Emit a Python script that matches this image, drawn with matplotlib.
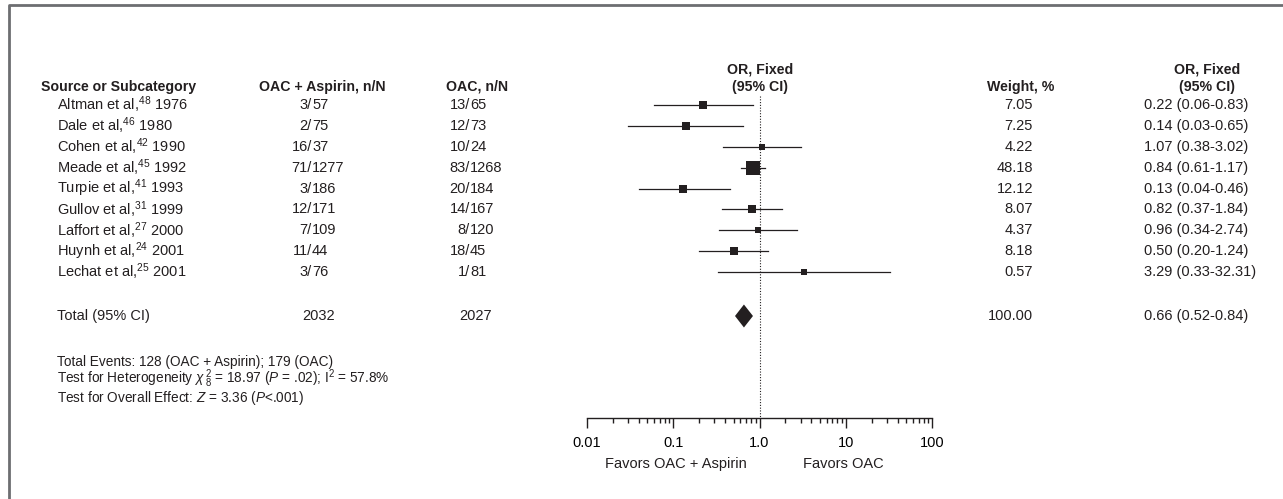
import matplotlib
matplotlib.use("Agg")
import matplotlib.pyplot as plt
from matplotlib.lines import Line2D
from matplotlib.ticker import FixedLocator, LogLocator, NullFormatter
import matplotlib.transforms as mtransforms

fam = ['Liberation Sans Narrow', 'DejaVu Sans Condensed', 'Liberation Sans', 'DejaVu Sans']
plt.rcParams['font.family'] = fam
plt.rcParams['mathtext.fontset'] = 'custom'
plt.rcParams['mathtext.rm'] = 'Liberation Sans'
plt.rcParams['mathtext.it'] = 'Liberation Sans:italic'
plt.rcParams['mathtext.bf'] = 'Liberation Sans:bold'

# Datos de los estudios
authors = ["Altman et al", "Dale et al", "Cohen et al", "Meade et al", "Turpie et al",
           "Gullov et al", "Laffort et al", "Huynh et al", "Lechat et al"]
refs = [48, 46, 42, 45, 41, 31, 27, 24, 25]
years = [1976, 1980, 1990, 1992, 1993, 1999, 2000, 2001, 2001]
exp_n = [3, 2, 16, 71, 3, 12, 7, 11, 3]
exp_N = [57, 75, 37, 1277, 186, 171, 109, 44, 76]
ctl_n = [13, 12, 10, 83, 20, 14, 8, 18, 1]
ctl_N = [65, 73, 24, 1268, 184, 167, 120, 45, 81]
weights = [7.05, 7.25, 4.22, 48.18, 12.12, 8.07, 4.37, 8.18, 0.57]
odds = [0.22, 0.14, 1.07, 0.84, 0.13, 0.82, 0.96, 0.50, 3.29]
ci_lo = [0.06, 0.03, 0.38, 0.61, 0.04, 0.37, 0.34, 0.20, 0.33]
ci_hi = [0.83, 0.65, 3.02, 1.17, 0.46, 1.84, 2.74, 1.24, 32.31]

# Total
total_exp = 2032
total_ctl = 2027
total_weight = 100.00
total_or = 0.66
total_lo = 0.52
total_hi = 0.84

tick_values = [0.01, 0.1, 1.0, 10, 100]
tick_labels = ["0.01", "0.1", "1.0", "10", "100"]

W, H = 1283, 499
fig = plt.figure(figsize=(W / 100, H / 100), dpi=100)

# ejes del forest plot (en pixeles de la figura)
ax_top, ax_bot = 62, 418
ax = fig.add_axes([587 / W, (H - ax_bot) / H, 345 / W, (ax_bot - ax_top) / H])
row_px = 20.9
first_row_px = 105
y_top = -(first_row_px - ax_top) / row_px
y_bot = y_top + (ax_bot - ax_top) / row_px
ax.set_xscale('log')
ax.set_xlim(0.01, 100)
ax.set_ylim(y_bot, y_top)

for s in ['top', 'right', 'left']:
    ax.spines[s].set_visible(False)
ax.spines['bottom'].set_linewidth(1.0)
ax.spines['bottom'].set_color('#231f20')
ax.set_yticks([])
ax.xaxis.set_major_locator(FixedLocator(tick_values))
ax.set_xticklabels(tick_labels)
ax.xaxis.set_minor_locator(LogLocator(base=10, subs=range(2, 10)))
ax.xaxis.set_minor_formatter(NullFormatter())
ax.tick_params(axis='x', which='major', length=7, width=1.0, color='#231f20',
               labelsize=10.5, pad=6, direction='out')
ax.tick_params(axis='x', which='minor', length=3.5, width=1.0, color='#231f20',
               direction='out')

rows = list(range(len(authors)))
total_row = (316 - first_row_px) / row_px

# linea de no efecto
header_y = -(first_row_px - 87) / row_px
ax.plot([1, 1], [-0.45, y_bot], linestyle=(0, (1, 1.5)), color='#231f20',
        linewidth=0.8, clip_on=False)

# intervalos y cuadrados
for i in rows:
    ax.plot([ci_lo[i], ci_hi[i]], [i, i], color='#231f20', linewidth=0.9)
    side = (6.3 + 0.14 * weights[i]) * 0.72
    ax.plot(odds[i], i, marker='s', markersize=side, color='#231f20', markeredgewidth=0)

# diamante total
dh = 0.55
ax.fill([total_lo, total_or, total_hi, total_or],
        [total_row, total_row - dh, total_row, total_row + dh],
        color='#231f20', linewidth=0)

# texto: x en pixeles de la figura, y en datos
trans = mtransforms.blended_transform_factory(fig.transFigure, ax.transData)
def px(x):
    return x / W

fs = 10.5
kw = dict(transform=trans, fontsize=fs, va='center', color='#231f20', clip_on=False)
bkw = dict(kw, fontweight='bold', fontsize=10.2)

# encabezados
up = 17 / row_px
ax.text(px(41), header_y, "Source or Subcategory", ha='left', **bkw)
ax.text(px(322), header_y, "OAC + Aspirin, n/N", ha='center', **bkw)
ax.text(px(477), header_y, "OAC, n/N", ha='center', **bkw)
ax.text(px(760), header_y, "(95% CI)", ha='center', **bkw)
ax.text(px(760), header_y - up, "OR, Fixed", ha='center', **bkw)
ax.text(px(1021), header_y, "Weight, %", ha='center', **bkw)
ax.text(px(1207), header_y, "(95% CI)", ha='center', **bkw)
ax.text(px(1207), header_y - up, "OR, Fixed", ha='center', **bkw)

for i in rows:
    ax.text(px(57), i, f"{authors[i]},$^{{{refs[i]}}}$ {years[i]}", ha='left', **kw)
    ax.text(px(312), i, f"{exp_n[i]}/", ha='right', **kw)
    ax.text(px(312), i, f"{exp_N[i]}", ha='left', **kw)
    ax.text(px(470), i, f"{ctl_n[i]}/", ha='right', **kw)
    ax.text(px(470), i, f"{ctl_N[i]}", ha='left', **kw)
    ax.text(px(1033), i, f"{weights[i]:.2f}", ha='right', **kw)
    ax.text(px(1144), i, f"{odds[i]:.2f} ({ci_lo[i]:.2f}-{ci_hi[i]:.2f})", ha='left', **kw)

ax.text(px(57), total_row, "Total (95% CI)", ha='left', **kw)
ax.text(px(319), total_row, f"{total_exp}", ha='center', **kw)
ax.text(px(476), total_row, f"{total_ctl}", ha='center', **kw)
ax.text(px(1033), total_row, f"{total_weight:.2f}", ha='right', **kw)
ax.text(px(1144), total_row, f"{total_or:.2f} ({total_lo:.2f}-{total_hi:.2f})", ha='left', **kw)

# notas al pie
fkw = dict(kw, fontsize=9.8, va='baseline')
foot_y = [(366 - first_row_px) / row_px, (383 - first_row_px) / row_px,
          (402 - first_row_px) / row_px]
ax.text(px(57), foot_y[0], "Total Events: 128 (OAC + Aspirin); 179 (OAC)", ha='left', **fkw)
ax.text(px(57), foot_y[1],
        r"Test for Heterogeneity $\chi\,^{2}_{8}$ = 18.97 ($P$ = .02); I$^2$ = 57.8%",
        ha='left', **fkw)
ax.text(px(57), foot_y[2], r"Test for Overall Effect: $Z$ = 3.36 ($P$<.001)", ha='left', **fkw)

# etiquetas de favorece
ax.text(10 ** -0.97, -0.13, "Favors OAC + Aspirin", transform=ax.get_xaxis_transform(),
        ha='center', va='center', fontsize=fs, color='#231f20')
ax.text(10 ** 0.97, -0.13, "Favors OAC", transform=ax.get_xaxis_transform(),
        ha='center', va='center', fontsize=fs, color='#231f20')

# marco gris
fig.add_artist(Line2D([9 / W, 9 / W, 1.0], [0, 1 - 5 / H, 1 - 5 / H],
                      transform=fig.transFigure, color='#6d6e71', linewidth=2))

fig.savefig("out.png", dpi=100)
